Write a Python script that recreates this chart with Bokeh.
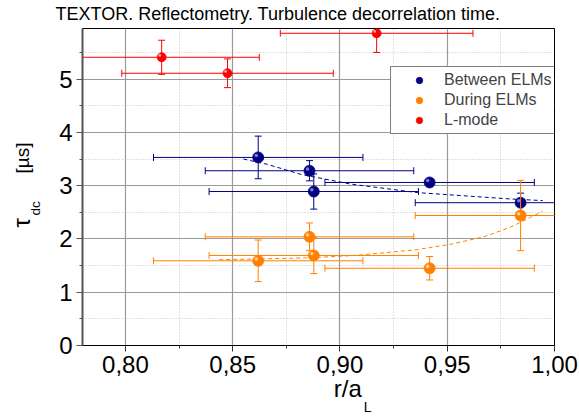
import math
import numpy as np
from bokeh.plotting import figure
from bokeh.models import (ColumnDataSource, Range1d, FixedTicker, CustomJSTickFormatter,
                          Label, Legend, LegendItem)
from bokeh.transform import dodge
from bokeh.embed import file_html
from bokeh.resources import INLINE

# ---------------- data ----------------
X_TICKS = [0.80, 0.85, 0.90, 0.95, 1.00]
X_TICK_LABELS = ["0,80", "0,85", "0,90", "0,95", "1,00"]
X_MINOR = [0.825, 0.875, 0.925, 0.975]
Y_TICKS = [0, 1, 2, 3, 4, 5]
Y_TICK_LABELS = ["0", "1", "2", "3", "4", "5"]
Y_MINOR = [0.5, 1.5, 2.5, 3.5, 4.5, 5.5]

between_x = [0.8619, 0.8858, 0.8878, 0.9418, 0.9842]
between_y = [3.53, 3.28, 2.89, 3.06, 2.68]
between_xerr = [0.0488, 0.0486, 0.0488, 0.0488, 0.0491]
between_yerr = [0.40, 0.19, 0.33, 0.06, 0.18]

during_x = [0.8619, 0.8858, 0.8878, 0.9418, 0.9842]
during_y = [1.59, 2.04, 1.69, 1.45, 2.44]
during_xerr = [0.0488, 0.0486, 0.0488, 0.0488, 0.0491]
during_yerr = [0.39, 0.26, 0.34, 0.22, 0.66]

lmode_x = [0.8169, 0.8476, 0.9171]
lmode_y = [5.41, 5.11, 5.86]
lmode_xerr = [0.0455, 0.0493, 0.0449]
lmode_yerr = [0.32, 0.27, 0.36]

between_fit_x = [0.855, 0.8662, 0.882, 0.905, 0.936, 0.9795, 0.9945]
between_fit_y = [3.50, 3.40, 3.21, 3.03, 2.87, 2.75, 2.72]

during_fit_x = [0.8437, 0.8848, 0.9073, 0.9205, 0.9361, 0.9516, 0.9671, 0.9795, 0.9945]
during_fit_y = [1.61, 1.645, 1.69, 1.74, 1.80, 1.90, 2.04, 2.22, 2.52]

SERIES = [
    ("Between ELMs", between_x, between_y, between_xerr, between_yerr, "#000080", "#8a8ae0", 11),
    ("During ELMs", during_x, during_y, during_xerr, during_yerr, "#ff8000", "#ffd9a8", 11),
    ("L-mode", lmode_x, lmode_y, lmode_xerr, lmode_yerr, "#ff0000", "#ffb0b0", 9),
]

X0, X1 = 0.78, 1.00
Y0, Y1 = 0.0, 5.95
FONT = "Liberation Sans"

# ---------------- figure ----------------
W, H = 579, 416
FL, FR, FT, FB = 82, 554, 28, 345  # frame edges in page pixels
p = figure(width=W, height=H, x_range=Range1d(X0, X1), y_range=Range1d(Y0, Y1),
           output_backend="svg", toolbar_location=None, title=None,
           min_border_left=FL, min_border_right=W - FR, min_border_top=FT,
           min_border_bottom=H - FB)
p.background_fill_color = "white"
p.border_fill_color = "white"
p.outline_line_color = "black"
p.outline_line_width = 1

fmt_code = "const i = tv.findIndex(t => Math.abs(t - tick) < 1e-9); return i >= 0 ? tl[i] : '';"
p.xaxis.ticker = FixedTicker(ticks=X_TICKS, minor_ticks=X_MINOR)
p.yaxis.ticker = FixedTicker(ticks=Y_TICKS, minor_ticks=Y_MINOR)
p.xaxis.formatter = CustomJSTickFormatter(args=dict(tv=X_TICKS, tl=X_TICK_LABELS), code=fmt_code)
p.yaxis.formatter = CustomJSTickFormatter(args=dict(tv=Y_TICKS, tl=Y_TICK_LABELS), code=fmt_code)

for ax in (p.xaxis[0], p.yaxis[0]):
    ax.major_label_text_font = FONT
    ax.major_label_text_font_size = "24px"
    ax.major_label_text_color = "black"
    ax.major_tick_out = 6
    ax.major_tick_in = 0
    ax.minor_tick_out = 3
    ax.minor_tick_in = 0
    ax.major_label_standoff = 4
    ax.axis_label = None
p.xaxis.axis_line_color = "black"
p.xaxis.major_tick_line_color = "#333333"
p.xaxis.minor_tick_line_color = "#333333"
p.yaxis.axis_line_color = "#555555"
p.yaxis.axis_line_width = 2
p.yaxis.major_tick_line_color = "#555555"
p.yaxis.minor_tick_line_color = "#555555"

for g in (p.xgrid[0], p.ygrid[0]):
    g.grid_line_color = "#9a9a9a"
    g.grid_line_width = 1.2
    g.minor_grid_line_color = "#c4c4c4"
    g.minor_grid_line_dash = "1 2"
    g.minor_grid_line_width = 1

# ---------------- fits ----------------
p.line(between_fit_x, between_fit_y, line_color="#000080", line_dash="4 3", line_width=1)
p.line(during_fit_x, during_fit_y, line_color="#ff8000", line_dash="4 3", line_width=1)

# ---------------- error bars + markers ----------------
main_renderers = {}
for name, xs, ys, xe, ye, col, light, msize in SERIES:
    x = np.array(xs); y = np.array(ys); dx = np.array(xe); dy = np.array(ye)
    src = ColumnDataSource(dict(x=x, y=y, xl=x - dx, xr=x + dx, yl=y - dy, yu=y + dy))
    p.segment(x0="xl", y0="y", x1="xr", y1="y", source=src, line_color=col, line_width=1)
    p.segment(x0="x", y0="yl", x1="x", y1="yu", source=src, line_color=col, line_width=1)
    for cx, cy, ang in (("xl", "y", math.pi / 2), ("xr", "y", math.pi / 2),
                        ("x", "yl", 0.0), ("x", "yu", 0.0)):
        p.scatter(x=cx, y=cy, source=src, marker="dash", size=7, angle=ang,
                  line_color=col, line_width=1)
    r = p.scatter(x="x", y="y", source=src, marker="circle", size=msize,
                  fill_color=col, line_color=col, line_width=0.8)
    p.scatter(x=dodge("x", -0.0009), y=dodge("y", 0.035), source=src, marker="circle",
              size=msize * 0.32, fill_color=light, line_color=None, fill_alpha=0.9)
    main_renderers[name] = r

legend = Legend(items=[LegendItem(label=n, renderers=[main_renderers[n]]) for n, *_ in SERIES],
                location=(308, 211), orientation="vertical")
legend.label_text_font = FONT
legend.label_text_font_size = "16px"
legend.label_height = 20
legend.glyph_height = 16
legend.glyph_width = 50
legend.label_standoff = 0
legend.spacing = 0
legend.padding = 3
legend.margin = 0
legend.border_line_color = "black"
legend.border_line_width = 1
legend.background_fill_color = "white"
legend.background_fill_alpha = 1
p.add_layout(legend)

# ---------------- texts (page pixels -> data coordinates) ----------------
def dx_(px):
    return X0 + (px - FL) / (FR - FL) * (X1 - X0)
def dy_(py):
    return Y0 + (FB - py) / (FB - FT) * (Y1 - Y0)

K = 0.24  # measured anchor-to-baseline offset, as a fraction of the font size

def add_text(text, px, py, size, place, rotated=False):
    if rotated:
        px = px - K * size
    else:
        py = py - K * size
    p.add_layout(Label(x=dx_(px), y=dy_(py), text=text, text_font=FONT,
                       text_font_size=f"{size}px", text_align="left",
                       text_baseline="alphabetic", angle=math.pi / 2 if rotated else 0.0,
                       text_color="black"), place)

# side panels are chosen so that their stacked sizes stay within the borders
add_text("TEXTOR. Reflectometry. Turbulence decorrelation time.", 55, 18.3, 18, "above")
add_text("r/a", 333.3, 394, 24, "below")
add_text("L", 363.3, 410.0, 14, "right")
add_text("dc", 38, 215, 13.5, "right", rotated=True)
add_text("\u03c4", 26.7, 227, 24, "left", rotated=True)
add_text("[\u00b5s]", 26.7, 173, 19, "left", rotated=True)

open("out.html", "w").write(file_html(p, INLINE))
